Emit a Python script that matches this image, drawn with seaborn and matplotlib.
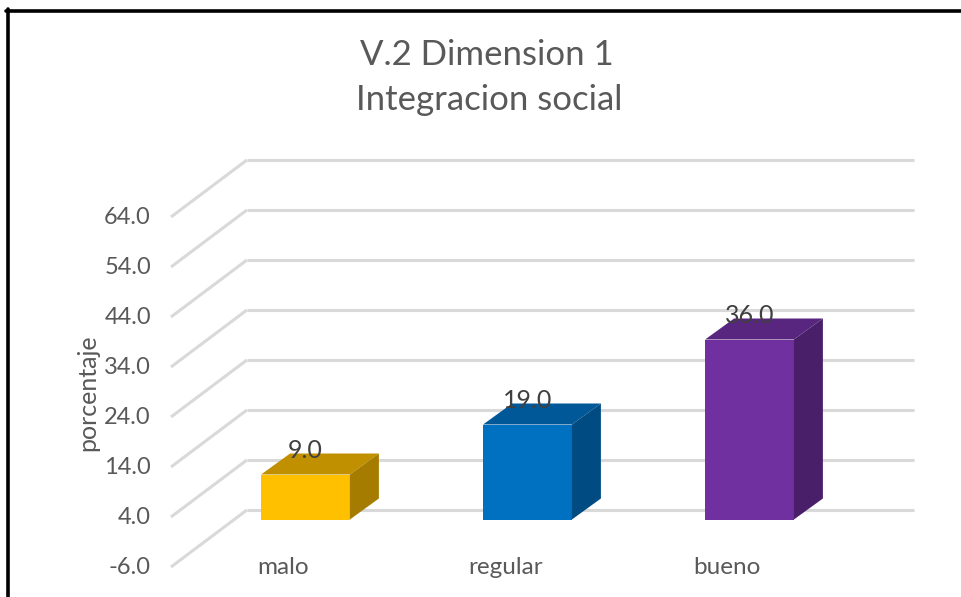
import matplotlib
matplotlib.use("Agg")
import matplotlib.pyplot as plt
from matplotlib.patches import Polygon
from matplotlib.lines import Line2D
import seaborn as sns
import pandas as pd

# Chart data
categories = ["malo", "regular", "bueno"]
values = [9.0, 19.0, 36.0]
tick_values = [-6, 4, 14, 24, 34, 44, 54, 64]
title_lines = ["V.2 Dimension 1", "Integracion social"]
y_label = "porcentaje"

front_colors = ["#FFC000", "#0070C0", "#7030A0"]
top_colors = ["#C09000", "#005899", "#58267F"]
side_colors = ["#A67C00", "#004B82", "#4A1F69"]

TEXT = "#595959"
GRID = "#D9D9D9"

sns.set_theme(style="white")
plt.rcParams["font.family"] = ["Lato", "DejaVu Sans"]

W, H, DPI = 961, 597, 100
fig = plt.figure(figsize=(W / DPI, H / DPI), dpi=DPI)
ax = fig.add_axes([0, 0, 1, 1])

df = pd.DataFrame({"cat": categories, "val": values})
sns.barplot(data=df, x="cat", y="val", hue="cat", palette=front_colors,
            width=0.4, legend=False, saturation=1, ax=ax, zorder=3,
            linewidth=0)

# Pixel scale of the layout: category step and value step
px_per_cat = 222.0
px_per_val = 5.0
x0_px, y0_px = 305.5, 519.5
ax.set_xlim(-x0_px / px_per_cat, (W - x0_px) / px_per_cat)
ax.set_ylim((y0_px - H) / px_per_val, y0_px / px_per_val)
ax.axis("off")

# 3D geometry (in data units): front plane, back wall and bar depth
front_dx, front_dy = -0.606, -3.5
back_dx, back_dy = -0.264, 7.9
right_x = 2.741
bar_dx, bar_dy = 29 / px_per_cat, 21 / px_per_val

for t in tick_values:
    # side wall diagonal and back wall line
    ax.plot([front_dx, back_dx], [t + front_dy, t + back_dy], color=GRID,
            lw=2.2, solid_capstyle="butt", zorder=1)
    ax.plot([back_dx, right_x], [t + back_dy, t + back_dy], color=GRID,
            lw=2.2, solid_capstyle="butt", zorder=1)
    ax.text(front_dx - 0.09, t + front_dy, f"{t:.1f}", ha="right",
            va="center", color=TEXT, fontsize=17)

for i, patch in enumerate(ax.patches):
    x = patch.get_x()
    w = patch.get_width()
    h = patch.get_height()
    top = Polygon([(x, h), (x + bar_dx, h + bar_dy), (x + w + bar_dx, h + bar_dy),
                   (x + w, h)], closed=True, facecolor=top_colors[i],
                  edgecolor="none", zorder=3)
    side = Polygon([(x + w, 0), (x + w + bar_dx, bar_dy),
                    (x + w + bar_dx, h + bar_dy), (x + w, h)], closed=True,
                   facecolor=side_colors[i], edgecolor="none", zorder=3)
    ax.add_patch(top)
    ax.add_patch(side)
    ax.text(x + w / 2, h + 4.8, f"{values[i]:.1f}", ha="center", va="center",
            color="#404040", fontsize=18, zorder=5)

for i, cat in enumerate(categories):
    ax.text(i - 0.1, -9.7, cat, ha="center", va="center", color=TEXT,
            fontsize=17.5)

fig.text(88 / W, 1 - 393 / H, y_label, rotation=90, ha="center", va="center",
         color=TEXT, fontsize=18)
fig.text(487 / W, 1 - 55 / H, title_lines[0], ha="center", va="center",
         color=TEXT, fontsize=25)
fig.text(489 / W, 1 - 100 / H, title_lines[1], ha="center", va="center",
         color=TEXT, fontsize=25)

# Chart frame (top and left edges)
fig.add_artist(Line2D([6 / W, 1], [1 - 10.5 / H, 1 - 10.5 / H], color="black",
                      lw=2.6, transform=fig.transFigure))
fig.add_artist(Line2D([8 / W, 8 / W], [1 - 9 / H, 0], color="black",
                      lw=2.6, transform=fig.transFigure))

fig.savefig("out.png", dpi=DPI, facecolor="white")
